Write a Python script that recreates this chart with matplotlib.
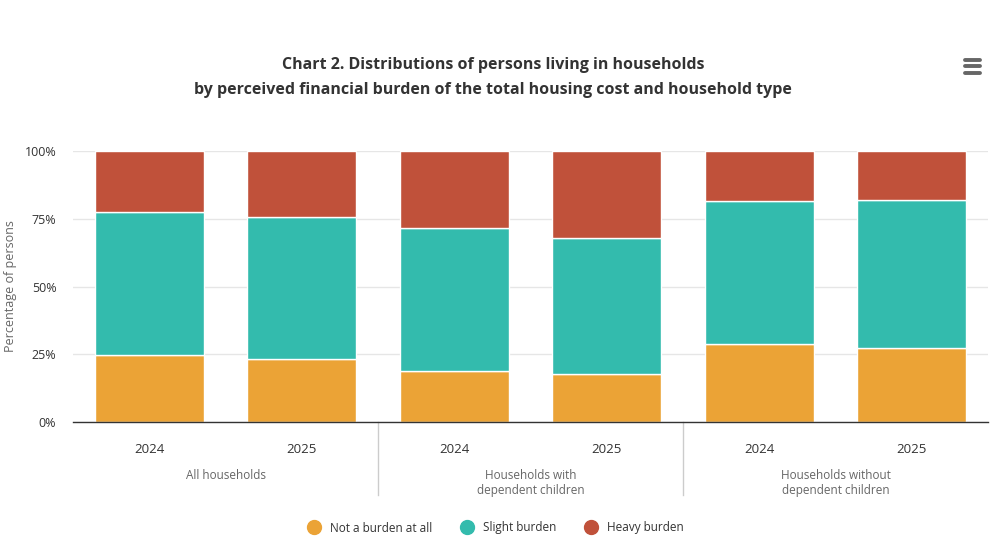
import matplotlib
matplotlib.use('Agg')
import matplotlib.pyplot as plt
import matplotlib.transforms as mtransforms
import numpy as np

plt.rcParams['font.family'] = ['Open Sans', 'DejaVu Sans']

# data
years = ['2024', '2025', '2024', '2025', '2024', '2025']
groups = ['All households', 'Households with\ndependent children',
          'Households without\ndependent children']
not_burden = [24.8, 23.2, 19.0, 17.8, 28.9, 27.2]
slight_burden = [52.7, 52.6, 52.6, 50.2, 52.8, 54.8]
heavy_burden = [22.5, 24.2, 28.4, 32.0, 18.3, 18.0]

series = [
    ('Not a burden at all', not_burden, '#eba336'),
    ('Slight burden', slight_burden, '#33bbad'),
    ('Heavy burden', heavy_burden, '#c0513a'),
]

fig = plt.figure(figsize=(10.02, 5.55), dpi=100)
ax = fig.add_axes([73 / 1002, 1 - 422 / 555, 915 / 1002, 271 / 555])

x = np.arange(len(years))
bottom = np.zeros(len(years))
handles = []
for name, vals, color in series:
    b = ax.bar(x, vals, width=0.715, bottom=bottom, color=color,
               edgecolor='white', linewidth=1, label=name, zorder=3)
    bottom += np.array(vals)
    handles.append(b)

ax.set_xlim(-0.5, len(years) - 0.5)
ax.set_ylim(0, 100)
ax.set_yticks([0, 25, 50, 75, 100])
ax.set_yticklabels(['0%', '25%', '50%', '75%', '100%'], fontsize=9, color='#333333')
ax.tick_params(axis='y', length=0, pad=12)
ax.tick_params(axis='x', length=0)
ax.set_xticks([])
ax.grid(axis='y', color='#e6e6e6', linewidth=1, zorder=0)
for s in ['top', 'right', 'left']:
    ax.spines[s].set_visible(False)
ax.spines['bottom'].set_color('#333333')
ax.spines['bottom'].set_linewidth(1)
ax.spines['bottom'].set_zorder(4)

# y axis title
fig.text(11 / 1002, 1 - 286 / 555, 'Percentage of persons', rotation=90,
         ha='center', va='center', fontsize=9, color='#666666')

trans = mtransforms.blended_transform_factory(ax.transData, ax.transAxes)
for xi, yr in zip(x, years):
    ax.text(xi, -0.1, yr, transform=trans, ha='center', va='center',
            fontsize=9.5, color='#333333')
for gi, g in enumerate(groups):
    ax.text(2 * gi + 0.5, -0.172, g, transform=trans, ha='center', va='top',
            fontsize=8.5, color='#666666', linespacing=1.25)
for sep in [1.5, 3.5]:
    ax.plot([sep, sep], [0, -0.27], transform=trans, color='#cccccc',
            linewidth=1, clip_on=False)

fig.text(0.492, 1 - 65 / 555, 'Chart 2. Distributions of persons living in households',
         ha='center', va='center', fontsize=11.5, fontweight='bold', color='#333333')
fig.text(0.492, 1 - 90 / 555,
         'by perceived financial burden of the total housing cost and household type',
         ha='center', va='center', fontsize=11.5, fontweight='bold', color='#333333')

# menu icon
for yy in [59.5, 66, 72.5]:
    fig.add_artist(plt.Line2D([965 / 1002, 980 / 1002], [1 - yy / 555, 1 - yy / 555],
                              color='#666666', linewidth=2.8, solid_capstyle='round'))

leg = fig.legend(handles=[plt.Line2D([], [], marker='o', linestyle='', markersize=10,
                                     color=c) for _, _, c in series],
                 labels=[n for n, _, _ in series], loc='center',
                 bbox_to_anchor=(0.492, 1 - 528 / 555), ncol=3, frameon=False,
                 fontsize=8.5, handletextpad=0.3, columnspacing=2.0)
for t in leg.get_texts():
    t.set_color('#333333')

fig.savefig('out.png', dpi=100, facecolor='white')
